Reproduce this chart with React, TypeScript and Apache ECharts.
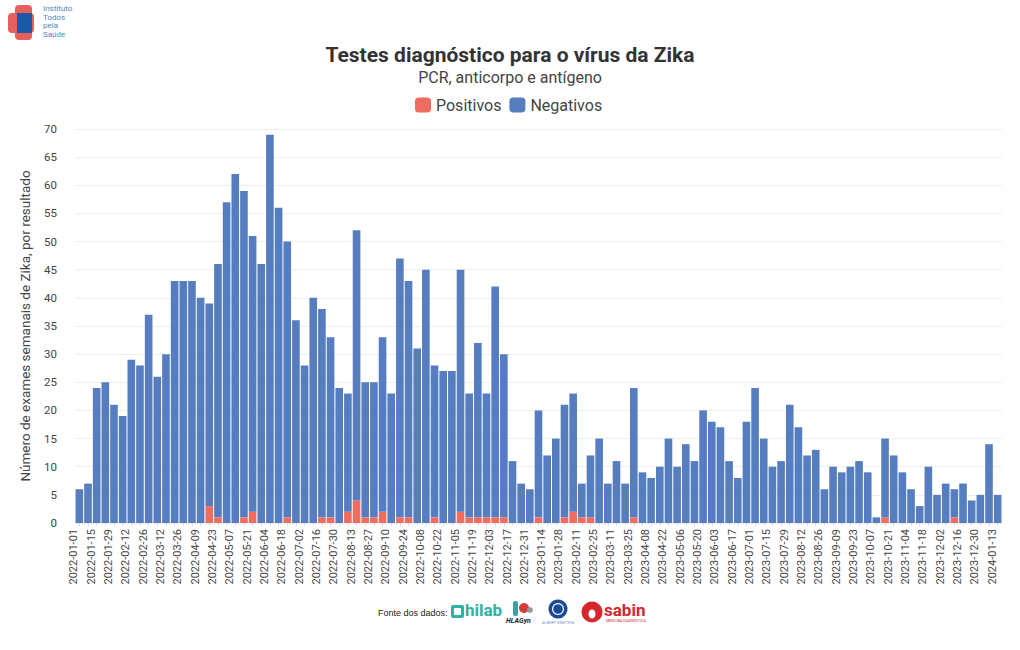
import React, { useEffect, useRef } from "react";
import * as echarts from "echarts";

const START_DATE = "2022-01-01";
const WEEKS = 107;

// Weekly positive tests
const positivos: number[] = [
  0, 0, 0, 0, 0, 0, 0, 0, 0, 0,
  0, 0, 0, 0, 0, 3, 1, 0, 0, 1,
  2, 0, 0, 0, 1, 0, 0, 0, 1, 1,
  0, 2, 4, 1, 1, 2, 0, 1, 1, 0,
  0, 1, 0, 0, 2, 1, 1, 1, 1, 1,
  0, 0, 0, 1, 0, 0, 1, 2, 1, 1,
  0, 0, 0, 0, 1, 0, 0, 0, 0, 0,
  0, 0, 0, 0, 0, 0, 0, 0, 0, 0,
  0, 0, 0, 0, 0, 0, 0, 0, 0, 0,
  0, 0, 0, 1, 0, 0, 0, 0, 0, 0,
  0, 1, 0, 0, 0, 0, 0,
];

// Weekly negative tests
const negativos: number[] = [
  6, 7, 24, 25, 21, 19, 29, 28, 37, 26,
  30, 43, 43, 43, 40, 36, 45, 57, 62, 58,
  49, 46, 69, 56, 49, 36, 28, 40, 37, 32,
  24, 21, 48, 24, 24, 31, 23, 46, 42, 31,
  45, 27, 27, 27, 43, 22, 31, 22, 41, 29,
  11, 7, 6, 19, 12, 15, 20, 21, 6, 11,
  15, 7, 11, 7, 23, 9, 8, 10, 15, 10,
  14, 11, 20, 18, 17, 11, 8, 18, 24, 15,
  10, 11, 21, 17, 12, 13, 6, 10, 9, 10,
  11, 9, 1, 14, 12, 9, 6, 3, 10, 5,
  7, 5, 7, 4, 5, 14, 5,
];

function buildWeeks(start: string, n: number): string[] {
  const out: string[] = [];
  const t0 = Date.parse(start + "T00:00:00Z");
  for (let i = 0; i < n; i++) {
    out.push(new Date(t0 + i * 7 * 86400000).toISOString().slice(0, 10));
  }
  return out;
}
const categories = buildWeeks(START_DATE, WEEKS);

const FONT = "Roboto, 'Noto Sans', sans-serif";
const RED = "#ef6c60";
const BLUE = "#567dc0";

export default function App() {
  const ref = useRef<HTMLDivElement>(null);
  useEffect(() => {
    if (!ref.current) return;
    const chart = echarts.init(ref.current, undefined, { renderer: "svg" });
    chart.setOption({
      animation: false,
      backgroundColor: "#ffffff",
      textStyle: { fontFamily: FONT },
      title: [
        {
          text: "Testes diagnóstico para o vírus da Zika",
          left: "center",
          top: 39,
          textStyle: { fontFamily: FONT, fontSize: 21, fontWeight: "bold", color: "#333" },
        },
        {
          text: "PCR, anticorpo e antígeno",
          left: "center",
          top: 64,
          textStyle: { fontFamily: FONT, fontSize: 16, fontWeight: "normal", color: "#444" },
        },
      ],
      legend: {
        top: 92,
        left: 410,
        icon: "roundRect",
        itemWidth: 16,
        itemHeight: 15,
        itemGap: 8,
        textStyle: { fontFamily: FONT, fontSize: 16, color: "#444" },
        data: ["Positivos", "Negativos"],
      },
      grid: { left: 75, right: 18, top: 129, bottom: 127 },
      xAxis: {
        type: "category",
        data: categories,
        axisLine: { show: false },
        axisTick: { show: true, interval: 0, length: 3, alignWithLabel: true, lineStyle: { color: "#ddd" } },
        axisLabel: {
          interval: 1,
          rotate: 90,
          fontSize: 11,
          color: "#444",
          margin: 6,
          fontFamily: FONT,
          verticalAlign: "bottom",
        },
      },
      yAxis: {
        type: "value",
        min: 0,
        max: 70,
        interval: 5,
        name: "Número de exames semanais de Zika, por resultado",
        nameLocation: "middle",
        nameGap: 43,
        nameTextStyle: { fontFamily: FONT, fontSize: 13.5, color: "#444" },
        axisLine: { show: false },
        axisTick: { show: false },
        axisLabel: { fontSize: 11.5, color: "#444", margin: 18, fontFamily: FONT },
        splitLine: { lineStyle: { color: "#eee" } },
      },
      series: [
        {
          name: "Positivos",
          type: "bar",
          stack: "total",
          data: positivos,
          barCategoryGap: "12%",
          itemStyle: { color: RED },
        },
        {
          name: "Negativos",
          type: "bar",
          stack: "total",
          data: negativos,
          barCategoryGap: "12%",
          itemStyle: { color: BLUE },
        },
      ],
      graphic: [
        // Top-left institute logo
        { type: "rect", shape: { x: 15, y: 5, width: 17, height: 35, r: 4 }, style: { fill: "#e8605e" } },
        { type: "rect", shape: { x: 8, y: 13, width: 26, height: 20, r: 4 }, style: { fill: "#e8605e" } },
        { type: "rect", shape: { x: 17, y: 13, width: 15, height: 20 }, style: { fill: "#1e59a8" } },
        {
          type: "text",
          x: 43,
          y: 4,
          style: {
            text: "Instituto\nTodos\npela\nSaúde",
            fontSize: 8,
            lineHeight: 8.7,
            fill: "#4f86c6",
            fontFamily: FONT,
          },
        },
        // Data sources footer
        {
          type: "text",
          x: 378,
          y: 608,
          style: { text: "Fonte dos dados:", fontSize: 9, fill: "#222", fontFamily: "'Liberation Sans', Arial, sans-serif" },
        },
        { type: "rect", shape: { x: 451, y: 605, width: 13, height: 13, r: 2 }, style: { fill: "#2fb3a4" } },
        { type: "rect", shape: { x: 454, y: 608, width: 7, height: 7, r: 1 }, style: { fill: "#fff" } },
        {
          type: "text",
          x: 465,
          y: 601,
          style: { text: "hilab", fontSize: 17, fontWeight: "bold", fill: "#2fb3a4", fontFamily: FONT },
        },
        { type: "rect", shape: { x: 513, y: 601, width: 5, height: 15, r: 2 }, style: { fill: "#3aa0a0" } },
        { type: "circle", shape: { cx: 524, cy: 608, r: 5 }, style: { fill: "#d63a3a" } },
        { type: "circle", shape: { cx: 530, cy: 610, r: 3 }, style: { fill: "#999" } },
        {
          type: "text",
          x: 506,
          y: 617,
          style: { text: "HLAGyn", fontSize: 7, fontWeight: "bold", fontStyle: "italic", fill: "#222", fontFamily: FONT },
        },
        { type: "circle", shape: { cx: 558, cy: 609, r: 9.5 }, style: { fill: "#1c4b96" } },
        { type: "ring", shape: { cx: 558, cy: 609, r: 6, r0: 4.8 }, style: { fill: "#ffffff" } },
        {
          type: "text",
          x: 542,
          y: 620,
          style: { text: "ALBERT EINSTEIN", fontSize: 4, fill: "#7a93c0", fontFamily: FONT },
        },
        { type: "circle", shape: { cx: 592, cy: 612, r: 10.5 }, style: { fill: "#d7262e" } },
        { type: "ellipse", shape: { cx: 592, cy: 614, rx: 3.5, ry: 4.5 }, style: { fill: "#ffffff" } },
        {
          type: "text",
          x: 604,
          y: 601,
          style: { text: "sabin", fontSize: 17, fontWeight: "bold", fill: "#d7262e", fontFamily: FONT },
        },
        {
          type: "text",
          x: 606,
          y: 619,
          style: { text: "MEDICINA DIAGNÓSTICA", fontSize: 3.5, fill: "#d7262e", fontFamily: FONT },
        },
      ],
    });
    return () => chart.dispose();
  }, []);
  return (
    <div
      ref={ref}
      style={{ width: 1020, height: 650, position: "fixed", left: 0, top: 0 }}
    />
  );
}
